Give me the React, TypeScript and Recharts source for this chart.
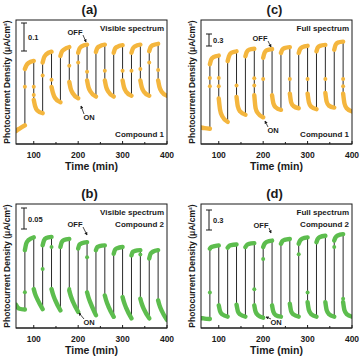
import React from 'react'
import { ComposedChart, Line, Scatter, XAxis, YAxis } from 'recharts'

const ORANGE = '#F4B63E'
const GREEN = '#5DBD4E'
const INK = '#1b1b1b'
const FONT = '"Liberation Sans", Arial, sans-serif'

// light switched at each of these times (min); every segment runs 20 min
const SWITCH_TIMES = [60, 80, 100, 120, 140, 160, 180, 200, 220, 240, 260, 280, 300, 320, 340, 360, 380]
// sample offsets inside one segment (min)
const SAMPLE_OFFSETS = [0, 3, 8, 20]
const TIME_TICKS = [100, 150, 200, 250, 300, 350, 400]

// (a) compound 1, visible light, μA/cm²
const curveA = [
  [0.048, 0.052, 0.057, 0.069],
  [0.277, 0.289, 0.299, 0.307],
  [0.163, 0.140, 0.124, 0.114],
  [0.301, 0.319, 0.331, 0.341],
  [0.211, 0.190, 0.170, 0.154],
  [0.325, 0.340, 0.349, 0.358],
  [0.229, 0.205, 0.187, 0.169],
  [0.337, 0.352, 0.361, 0.367],
  [0.235, 0.211, 0.193, 0.175],
  [0.340, 0.354, 0.361, 0.367],
  [0.235, 0.211, 0.193, 0.175],
  [0.337, 0.352, 0.359, 0.365],
  [0.235, 0.211, 0.193, 0.178],
  [0.337, 0.352, 0.361, 0.367],
  [0.235, 0.211, 0.193, 0.178],
  [0.343, 0.358, 0.365, 0.370],
  [0.235, 0.211, 0.193, 0.178],
]
const midsA = [
  [80, 0.211], [100, 0.211], [100, 0.181], [120, 0.253], [140, 0.237], [180, 0.289], [200, 0.301],
  [220, 0.267], [260, 0.271], [300, 0.271], [320, 0.271], [340, 0.277], [360, 0.301], [380, 0.273],
]

// (b) compound 2, visible light
const curveB = [
  [0.058, 0.052, 0.048, 0.046],
  [0.194, 0.210, 0.219, 0.226],
  [0.097, 0.085, 0.072, 0.047],
  [0.206, 0.218, 0.224, 0.227],
  [0.097, 0.085, 0.070, 0.044],
  [0.202, 0.214, 0.219, 0.222],
  [0.093, 0.081, 0.066, 0.040],
  [0.198, 0.208, 0.211, 0.214],
  [0.089, 0.077, 0.062, 0.032],
  [0.194, 0.202, 0.204, 0.206],
  [0.081, 0.069, 0.054, 0.028],
  [0.185, 0.195, 0.199, 0.202],
  [0.077, 0.065, 0.050, 0.024],
  [0.181, 0.190, 0.192, 0.194],
  [0.073, 0.061, 0.047, 0.024],
  [0.173, 0.185, 0.190, 0.194],
  [0.069, 0.057, 0.043, 0.020],
]
const midsB = [[80, 0.089], [120, 0.147], [140, 0.202], [180, 0.097], [220, 0.176], [340, 0.183]]

// (c) compound 1, full spectrum
const curveC = [
  [0.436, 0.427, 0.419, 0.402],
  [2.094, 2.222, 2.282, 2.325],
  [1.197, 0.897, 0.726, 0.581],
  [2.179, 2.308, 2.393, 2.436],
  [1.239, 0.983, 0.855, 0.769],
  [2.308, 2.419, 2.479, 2.504],
  [1.282, 0.940, 0.812, 0.701],
  [2.265, 2.393, 2.462, 2.496],
  [1.282, 1.068, 0.966, 0.897],
  [2.393, 2.479, 2.521, 2.547],
  [1.325, 1.094, 1.000, 0.940],
  [2.393, 2.496, 2.547, 2.581],
  [1.325, 1.094, 0.983, 0.915],
  [2.436, 2.538, 2.581, 2.607],
  [1.342, 1.111, 1.009, 0.957],
  [2.479, 2.607, 2.667, 2.692],
  [1.325, 1.068, 0.940, 0.855],
]
const midsC = [
  [80, 1.735], [80, 1.521], [100, 1.735], [100, 1.521], [140, 1.538], [180, 1.726], [180, 1.538],
  [200, 1.709], [260, 1.709], [300, 1.709], [340, 1.709], [380, 1.709], [380, 1.521],
]

// (d) compound 2, full spectrum
const curveD = [
  [0.150, 0.150, 0.145, 0.140],
  [1.225, 1.250, 1.260, 1.275],
  [0.350, 0.260, 0.210, 0.175],
  [1.240, 1.265, 1.280, 1.290],
  [0.360, 0.260, 0.210, 0.175],
  [1.250, 1.280, 1.300, 1.310],
  [0.350, 0.250, 0.200, 0.160],
  [1.250, 1.300, 1.330, 1.350],
  [0.350, 0.250, 0.200, 0.175],
  [1.300, 1.340, 1.360, 1.375],
  [0.375, 0.260, 0.210, 0.175],
  [1.300, 1.350, 1.380, 1.400],
  [0.400, 0.275, 0.215, 0.175],
  [1.325, 1.375, 1.405, 1.425],
  [0.400, 0.275, 0.215, 0.175],
  [1.350, 1.400, 1.430, 1.450],
  [0.400, 0.275, 0.215, 0.175],
]
const midsD = [[80, 0.55], [180, 0.60], [200, 1.065], [280, 1.14], [300, 0.55], [360, 1.25], [380, 0.45]]

type Row = { t: number; v: number | null; o: number | null }

function buildRows(curve: number[][]): Row[] {
  const rows: Row[] = []
  curve.forEach((seg, i) => {
    const t0 = SWITCH_TIMES[i]
    // break the coloured trace at every switch, the black line keeps going
    if (i > 0) rows.push({ t: t0, v: null, o: null })
    seg.forEach((val, j) => rows.push({ t: t0 + SAMPLE_OFFSETS[j], v: val, o: val }))
  })
  return rows
}

const TimeTick = (props: any) => {
  const { x, y, payload } = props
  const major = payload.value % 100 === 0
  return (
    <g>
      <line x1={x} x2={x} y1={y} y2={y - (major ? 3 : 2)} stroke={INK} strokeWidth={1} />
      {major && (
        <text x={x} y={y + 14} textAnchor="middle" fontFamily={FONT} fontWeight="bold" fontSize={8.5} fill={INK}>
          {payload.value}
        </text>
      )}
    </g>
  )
}

interface PanelProps {
  id: string
  curve: number[][]
  mids: number[][]
  color: string
  yMax: number
  left: number
  top: number
  plotLeft: number
  spectrum: string
  compound: string
  compoundLow: boolean
  bar: { y1: number; y2: number; label: string }
  off: { x: number; y: number; tx: number; ty: number }
  on: { x: number; y: number; tx: number; ty: number }
}

const W = 181
const H = 172
const PLOT_W = 151
const PLOT_TOP = 20
const PLOT_BOTTOM = 144

function Panel(p: PanelProps) {
  const rows = buildRows(p.curve)
  const mids = p.mids.map(([t, v]) => ({ t, v }))
  const cx = p.plotLeft + PLOT_W / 2
  const barX = p.plotLeft + 8
  const textRight = p.plotLeft + PLOT_W - 3
  const txt = { fontFamily: FONT, fontWeight: 'bold' as const, fill: INK }
  return (
    <div style={{ position: 'absolute', left: p.left, top: p.top, width: W, height: H }}>
      <ComposedChart
        width={W}
        height={H}
        data={rows}
        margin={{ top: PLOT_TOP, right: W - p.plotLeft - PLOT_W, bottom: H - PLOT_BOTTOM - 20, left: p.plotLeft }}
      >
        <XAxis
          dataKey="t"
          type="number"
          domain={[60, 400]}
          ticks={TIME_TICKS}
          interval={0}
          height={20}
          tickSize={0}
          tickMargin={0}
          tickLine={false}
          axisLine={{ stroke: INK }}
          tick={<TimeTick />}
          allowDataOverflow
        />
        <YAxis type="number" domain={[0, p.yMax]} width={0} tick={false} tickLine={false} axisLine={{ stroke: INK }} allowDataOverflow />
        <Line dataKey="v" type="linear" stroke="#2a2a2a" strokeWidth={1} dot={false} connectNulls isAnimationActive={false} />
        <Line dataKey="o" type="monotone" stroke={p.color} strokeWidth={4.4} strokeLinecap="round" dot={false} connectNulls={false} isAnimationActive={false} />
        <Scatter
          data={mids}
          dataKey="v"
          fill={p.color}
          isAnimationActive={false}
          shape={(s: any) => <circle cx={s.cx} cy={s.cy} r={2} fill={p.color} />}
        />
      </ComposedChart>
      <svg width={W} height={H} style={{ position: 'absolute', left: 0, top: 0, pointerEvents: 'none' }}>
        <defs>
          <marker id={`arrow-${p.id}`} viewBox="0 0 6 6" refX="5" refY="3" markerWidth="4" markerHeight="4" orient="auto">
            <path d="M0,0 L6,3 L0,6 z" fill={INK} />
          </marker>
        </defs>
        <rect x={p.plotLeft} y={PLOT_TOP} width={PLOT_W} height={PLOT_BOTTOM - PLOT_TOP} fill="none" stroke={INK} strokeWidth={1} />
        <text x={cx - 2} y={14} textAnchor="middle" fontSize={13} {...txt}>({p.id})</text>
        <text
          transform={`translate(${p.plotLeft - 6}, ${(PLOT_TOP + PLOT_BOTTOM) / 2}) rotate(-90)`}
          textAnchor="middle"
          fontSize={8.5}
          {...txt}
        >
          Photocurrent Density (μA/cm²)
        </text>
        <text x={cx} y={170} textAnchor="middle" fontSize={10.5} {...txt}>Time (min)</text>
        <line x1={barX} x2={barX} y1={p.bar.y1} y2={p.bar.y2} stroke={INK} strokeWidth={1} />
        <line x1={barX - 3} x2={barX + 3} y1={p.bar.y1} y2={p.bar.y1} stroke={INK} strokeWidth={1} />
        <line x1={barX - 3} x2={barX + 3} y1={p.bar.y2} y2={p.bar.y2} stroke={INK} strokeWidth={1} />
        <text x={barX + 4} y={(p.bar.y1 + p.bar.y2) / 2 + 3} fontSize={7.5} {...txt}>{p.bar.label}</text>
        <text x={textRight} y={31} textAnchor="end" fontSize={8} {...txt}>{p.spectrum}</text>
        <text x={textRight} y={p.compoundLow ? 137 : 43} textAnchor="end" fontSize={8} {...txt}>{p.compound}</text>
        <text x={p.off.tx} y={p.off.ty} textAnchor="middle" fontSize={7.5} {...txt}>OFF</text>
        <line x1={p.off.tx + 8} y1={p.off.ty} x2={p.off.x} y2={p.off.y} stroke={INK} strokeWidth={0.8} markerEnd={`url(#arrow-${p.id})`} />
        <text x={p.on.tx} y={p.on.ty} textAnchor="middle" fontSize={7.5} {...txt}>ON</text>
        <line x1={p.on.tx - 5} y1={p.on.ty - 6} x2={p.on.x} y2={p.on.y} stroke={INK} strokeWidth={0.8} markerEnd={`url(#arrow-${p.id})`} />
      </svg>
    </div>
  )
}

export default function App() {
  return (
    <div style={{ position: 'absolute', left: 0, top: 0, width: 362, height: 356, background: '#fff', overflow: 'hidden' }}>
      <Panel
        id="a" curve={curveA} mids={midsA} color={ORANGE} yMax={0.458} left={0} top={0} plotLeft={16}
        spectrum="Visible spectrum" compound="Compound 1" compoundLow
        bar={{ y1: 23, y2: 51, label: '0.1' }}
        off={{ x: 86, y: 42, tx: 75, ty: 35 }}
        on={{ x: 81, y: 106, tx: 89, ty: 120 }}
      />
      <Panel
        id="c" curve={curveC} mids={midsC} color={ORANGE} yMax={3.26} left={181} top={0} plotLeft={20}
        spectrum="Full spectrum" compound="Compound 1" compoundLow
        bar={{ y1: 34, y2: 46, label: '0.3' }}
        off={{ x: 90, y: 47, tx: 79, ty: 41 }}
        on={{ x: 84, y: 121, tx: 92, ty: 133 }}
      />
      <Panel
        id="b" curve={curveB} mids={midsB} color={GREEN} yMax={0.309} left={0} top={184} plotLeft={16}
        spectrum="Visible spectrum" compound="Compound 2" compoundLow={false}
        bar={{ y1: 24, y2: 45, label: '0.05' }}
        off={{ x: 87, y: 51, tx: 75, ty: 43 }}
        on={{ x: 79, y: 129, tx: 89, ty: 141 }}
      />
      <Panel
        id="d" curve={curveD} mids={midsD} color={GREEN} yMax={1.915} left={181} top={184} plotLeft={20}
        spectrum="Full spectrum" compound="Compound 2" compoundLow={false}
        bar={{ y1: 26, y2: 46, label: '0.3' }}
        off={{ x: 90, y: 49, tx: 80, ty: 44 }}
        on={{ x: 85, y: 133, tx: 95, ty: 141 }}
      />
    </div>
  )
}
